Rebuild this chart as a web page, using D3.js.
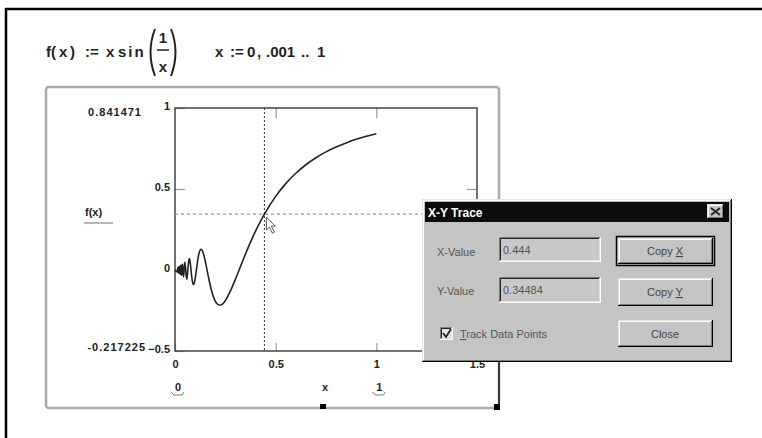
<!DOCTYPE html>
<html>
<head>
<meta charset="utf-8">
<script src="https://cdn.jsdelivr.net/npm/d3@7"></script>
<style>
  html, body { margin: 0; padding: 0; background: #fff; }
  svg { display: block; }
  text { font-family: Arial, "Liberation Sans", sans-serif; }
</style>
</head>
<body>
<div id="chart"></div>
<script>
// f(x) = x sin(1/x) (dense where it oscillates near 0)
const curveX = [0, 0.01248, 0.01299, 0.01355, 0.01415, 0.01480, 0.01553, 0.01632, 0.01721, 0.01819,
  0.01929, 0.02054, 0.02195, 0.02358, 0.02546, 0.02768, 0.03032, 0.03351, 0.03745, 0.04244,
  0.04897, 0.0579, 0.061, 0.0637, 0.067, 0.0707, 0.075, 0.0796, 0.085, 0.0917,
  0.095, 0.10, 0.105, 0.11, 0.115, 0.12, 0.1295, 0.14, 0.15, 0.16,
  0.17, 0.18, 0.19, 0.20, 0.21, 0.2225, 0.24, 0.26, 0.28, 0.30,
  0.32, 0.34, 0.36, 0.38, 0.40, 0.444, 0.45, 0.50, 0.55, 0.60,
  0.65, 0.70, 0.75, 0.80, 0.85, 0.90, 0.95, 1.00]
const curveY = [0, -0.0125, 0.0130, -0.0135, 0.0141, -0.0148, 0.0155, -0.0163, 0.0172, -0.0182,
  0.0193, -0.0205, 0.0220, -0.0236, 0.0255, -0.0277, 0.0303, -0.0335, 0.0374, -0.0424,
  0.0490, -0.0579, -0.0386, 0, 0.0456, 0.0707, 0.0512, 0, -0.0602, -0.0913,
  -0.0839, -0.0544, -0.0112, 0.0358, 0.0761, 0.1058, 0.1284, 0.1060, 0.0561, -0.0053,
  -0.0665, -0.1199, -0.1620, -0.1918, -0.2098, -0.2172, -0.2061, -0.1679, -0.1167, -0.0571,
  0.0053, 0.0677, 0.1279, 0.1859, 0.2394, 0.3448, 0.3578, 0.4546, 0.5332, 0.5972,
  0.6497, 0.6929, 0.7289, 0.7592, 0.7847, 0.8064, 0.8252, 0.8415]

const xDomain = [0, 1.5]
const yDomain = [-0.5, 1]
const xTicks = [0, 0.5, 1, 1.5]
const yTicks = [-0.5, 0, 0.5, 1]
const xRangeVals = [0, 1]
const yMaxLabel = "0.841471"
const yMinLabel = "-0.217225"
const traceX = 0.444
const traceY = 0.34484

const W = 762, H = 438
const svg = d3.select("#chart").append("svg").attr("width", W).attr("height", H)
svg.append("rect").attr("width", W).attr("height", H).attr("fill", "#fff")

// page border (top + left edges visible)
svg.append("line").attr("x1", 5).attr("y1", 9).attr("x2", W).attr("y2", 9)
  .attr("stroke", "#000").attr("stroke-width", 2.5)
svg.append("line").attr("x1", 6).attr("y1", 8).attr("x2", 6).attr("y2", H)
  .attr("stroke", "#000").attr("stroke-width", 2.5)

// formula line
const formula = svg.append("g").attr("font-weight", "bold").attr("font-size", 15).attr("fill", "#222")
const pieces = [["f(", 46, 57], ["x", 59, 57], [")", 70, 57], [":=", 85, 57], ["x", 106, 57],
  ["x", 215, 57], [":=", 230, 57], ["0", 247, 57], [",", 257, 57], [".001", 266, 57], ["..", 301, 57], ["1", 317, 57]]
pieces.forEach(([t, px, py]) => formula.append("text").attr("x", px).attr("y", py).text(t))
formula.append("text").attr("x", 118).attr("y", 57).attr("letter-spacing", 2).text("sin")
formula.append("text").attr("x", 163).attr("y", 43).attr("text-anchor", "middle").text("1")
formula.append("text").attr("x", 163).attr("y", 72).attr("text-anchor", "middle").text("x")
formula.append("line").attr("x1", 157).attr("x2", 169).attr("y1", 50).attr("y2", 50)
  .attr("stroke", "#222").attr("stroke-width", 1.5)
formula.append("path").attr("d", "M155,29 Q146,52 155,76").attr("fill", "none").attr("stroke", "#222").attr("stroke-width", 2)
formula.append("path").attr("d", "M171,29 Q180,52 171,76").attr("fill", "none").attr("stroke", "#222").attr("stroke-width", 2)

// plot region frame
svg.append("rect").attr("x", 46).attr("y", 87).attr("width", 453).attr("height", 321).attr("rx", 3)
  .attr("fill", "none").attr("stroke", "#aaa").attr("stroke-width", 2.5)
svg.append("line").attr("x1", 499).attr("x2", 499).attr("y1", 360).attr("y2", 408)
  .attr("stroke", "#111").attr("stroke-width", 1.5)
svg.append("rect").attr("x", 320).attr("y", 404).attr("width", 6).attr("height", 5).attr("fill", "#000")
svg.append("rect").attr("x", 494).attr("y", 404).attr("width", 6).attr("height", 6).attr("fill", "#000")

const x = d3.scaleLinear().domain(xDomain).range([175, 477])
const y = d3.scaleLinear().domain(yDomain).range([351, 108])

const labelFont = (sel) => sel.attr("font-family", "Arial, 'Liberation Sans', sans-serif")
  .attr("font-size", 11).attr("font-weight", "bold")

// axes with inward ticks
const styleAxis = (g) => {
  g.select(".domain").remove()
  g.selectAll(".tick line").attr("stroke", "#999").attr("stroke-width", 1.2)
  g.selectAll(".tick text").attr("fill", "#222")
  labelFont(g)
}
svg.append("g").attr("transform", "translate(0,351)")
  .call(d3.axisBottom(x).tickValues(xTicks).tickSize(-8).tickPadding(9).tickFormat(d3.format("")))
  .call(styleAxis)
svg.append("g").attr("transform", "translate(0,108)")
  .call(d3.axisTop(x).tickValues(xTicks.slice(1, 3)).tickSize(-10).tickFormat(""))
  .call(styleAxis)
svg.append("g").attr("transform", "translate(175,0)")
  .call(d3.axisLeft(y).tickValues(yTicks).tickSize(-10).tickPadding(5).tickFormat(d3.format("")))
  .call(styleAxis)
  .selectAll(".tick text").attr("dy", "0.1em")
svg.append("g").attr("transform", "translate(477,0)")
  .call(d3.axisRight(y).tickValues(yTicks.slice(1, 3)).tickSize(-10).tickFormat(""))
  .call(styleAxis)

svg.append("rect").attr("x", x(xDomain[0])).attr("y", y(yDomain[1]))
  .attr("width", x(xDomain[1]) - x(xDomain[0])).attr("height", y(yDomain[0]) - y(yDomain[1]))
  .attr("fill", "none").attr("stroke", "#444").attr("stroke-width", 1.5)

// axis limit labels
svg.append("text").attr("x", 142).attr("y", 116).attr("text-anchor", "end").attr("letter-spacing", 1)
  .attr("fill", "#222").call(labelFont).text(yMaxLabel)
svg.append("text").attr("x", 146).attr("y", 351).attr("text-anchor", "end").attr("letter-spacing", 1)
  .attr("fill", "#222").call(labelFont).text(yMinLabel)
svg.append("text").attr("x", 85).attr("y", 216).attr("fill", "#222").call(labelFont).text("f(x)")
svg.append("line").attr("x1", 84).attr("x2", 113).attr("y1", 223).attr("y2", 223)
  .attr("stroke", "#888").attr("stroke-width", 1.2)

const rangeRow = svg.append("g")
rangeRow.selectAll("text.lim").data(xRangeVals).join("text")
  .attr("x", (d) => x(d) + 3).attr("y", 391).attr("text-anchor", "middle")
  .attr("fill", "#222").call(labelFont).text((d) => d)
rangeRow.selectAll("path").data(xRangeVals).join("path")
  .attr("d", (d) => `M${x(d) - 4},392 L${x(d) - 1},395 L${x(d) + 7},395 L${x(d) + 9},392`)
  .attr("fill", "none").attr("stroke", "#777").attr("stroke-width", 1)
rangeRow.append("text").attr("x", 325).attr("y", 391).attr("text-anchor", "middle")
  .attr("fill", "#222").call(labelFont).text("x")

// trace crosshair
svg.append("line").attr("x1", x(xDomain[0])).attr("x2", x(xDomain[1]))
  .attr("y1", y(traceY)).attr("y2", y(traceY))
  .attr("stroke", "#999").attr("stroke-width", 1.2).attr("stroke-dasharray", "3,3")
svg.append("line").attr("x1", x(traceX)).attr("x2", x(traceX))
  .attr("y1", y(yDomain[1])).attr("y2", y(yDomain[0]))
  .attr("stroke", "#333").attr("stroke-width", 1).attr("stroke-dasharray", "2,2")

// curve
const line = d3.line().x((d) => x(d[0])).y((d) => y(d[1])).curve(d3.curveMonotoneX)
svg.append("path").datum(d3.zip(curveX, curveY)).attr("d", line)
  .attr("fill", "none").attr("stroke", "#222").attr("stroke-width", 1.6).attr("stroke-linejoin", "round")

// mouse pointer at trace point
svg.append("path")
  .attr("transform", `translate(${x(traceX) + 2},${y(traceY) + 3})`)
  .attr("d", "M0,0 L0,13 L3,10 L6,16 L8,15 L5,9 L9,9 Z")
  .attr("fill", "#fff").attr("stroke", "#555").attr("stroke-width", 1)

// X-Y Trace dialog
const dlg = svg.append("g")
const face = "#c4c4c4"
function bevel(g, bx, by, bw, bh, raised, fill) {
  g.append("rect").attr("x", bx).attr("y", by).attr("width", bw).attr("height", bh).attr("fill", fill)
  const [tl1, br1, tl2, br2] = raised ? ["#e4e4e4", "#000", "#fff", "#7a7a7a"] : ["#7a7a7a", "#fff", "#222", "#e0e0e0"]
  const edge = (x1, y1, x2, y2, c) => g.append("line").attr("x1", x1).attr("y1", y1).attr("x2", x2).attr("y2", y2)
    .attr("stroke", c).attr("stroke-width", 1)
  edge(bx + 0.5, by + 0.5, bx + bw - 0.5, by + 0.5, tl1)
  edge(bx + 0.5, by + 0.5, bx + 0.5, by + bh - 0.5, tl1)
  edge(bx, by + bh - 0.5, bx + bw, by + bh - 0.5, br1)
  edge(bx + bw - 0.5, by, bx + bw - 0.5, by + bh, br1)
  edge(bx + 1.5, by + 1.5, bx + bw - 1.5, by + 1.5, tl2)
  edge(bx + 1.5, by + 1.5, bx + 1.5, by + bh - 1.5, tl2)
  edge(bx + 1, by + bh - 1.5, bx + bw - 1, by + bh - 1.5, br2)
  edge(bx + bw - 1.5, by + 1, bx + bw - 1.5, by + bh - 1, br2)
}
bevel(dlg, 422, 199, 310, 163, true, face)
dlg.append("rect").attr("x", 425).attr("y", 202).attr("width", 304).attr("height", 20).attr("fill", "#0c0c0c")
dlg.append("text").attr("x", 428).attr("y", 217).attr("fill", "#fff").attr("font-size", 12)
  .attr("font-weight", "bold").text("X-Y Trace")
bevel(dlg, 707, 204, 17, 15, true, face)
dlg.append("path").attr("d", "M711,208 L720,215 M720,208 L711,215").attr("stroke", "#222").attr("stroke-width", 1.8)

const dlgText = (tx, ty, t) => dlg.append("text").attr("x", tx).attr("y", ty)
  .attr("font-size", 11).attr("fill", "#555").text(t)
dlgText(437, 256, "X-Value")
dlgText(437, 295, "Y-Value")
bevel(dlg, 499, 237, 102, 25, false, "#c8c8c8")
bevel(dlg, 499, 277, 102, 26, false, "#c8c8c8")
dlgText(503, 254, d3.format(".3f")(traceX))
dlgText(503, 294, d3.format(".5f")(traceY))

const button = (by, bh, label, under, isDefault) => {
  if (isDefault) {
    dlg.append("rect").attr("x", 616.5).attr("y", by - 0.5).attr("width", 98).attr("height", bh + 1)
      .attr("fill", "none").attr("stroke", "#000").attr("stroke-width", 1.5)
  }
  bevel(dlg, 618, by + 1, 95, bh - 2, true, face)
  const t = dlg.append("text").attr("x", 665).attr("y", by + bh / 2 + 4).attr("text-anchor", "middle")
    .attr("font-size", 11).attr("fill", "#444")
  if (under) {
    t.append("tspan").text(label.slice(0, -1))
    t.append("tspan").attr("text-decoration", "underline").text(label.slice(-1))
  } else {
    t.text(label)
  }
}
button(237, 28, "Copy X", true, true)
button(277, 30, "Copy Y", true, false)
button(319, 29, "Close", false, false)

bevel(dlg, 440, 327, 13, 13, false, "#e6e6e6")
dlg.append("path").attr("d", "M443,333 L446,337 L451,329").attr("fill", "none")
  .attr("stroke", "#222").attr("stroke-width", 1.8)
const track = dlg.append("text").attr("x", 460).attr("y", 338).attr("font-size", 11).attr("fill", "#555")
track.append("tspan").attr("text-decoration", "underline").text("T")
track.append("tspan").text("rack Data Points")
</script>
</body>
</html>
